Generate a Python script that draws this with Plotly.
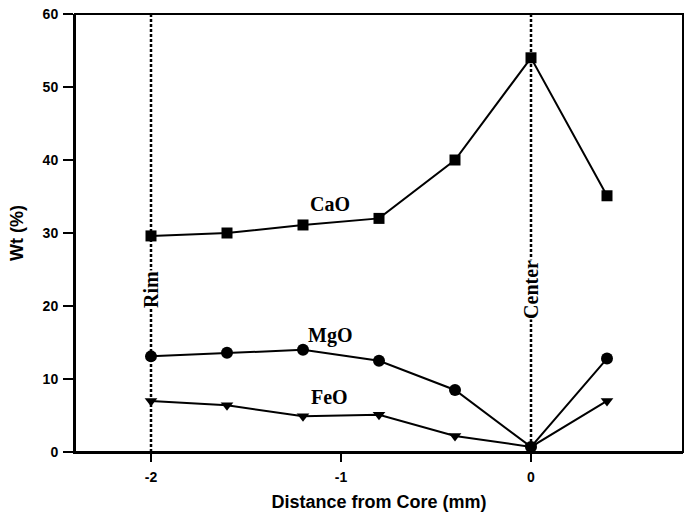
import plotly.graph_objects as go

distance = [-2, -1.6, -1.2, -0.8, -0.4, 0, 0.4]
cao = [29.6, 30.0, 31.1, 32.0, 40.0, 54.0, 35.1]
mgo = [13.1, 13.6, 14.0, 12.5, 8.5, 0.7, 12.8]
feo = [7.0, 6.4, 4.9, 5.1, 2.2, 0.7, 7.0]

x_ticks = [-2, -1, 0]
y_ticks = [0, 10, 20, 30, 40, 50, 60]

series = [("CaO", cao, "square", 11), ("MgO", mgo, "circle", 12), ("FeO", feo, "triangle-down", 11)]
labels = [("CaO", -1.06, 34.0), ("MgO", -1.06, 16.0), ("FeO", -1.06, 7.5)]
ref_lines = [(-2, "Rim"), (0, "Center")]

fig = go.Figure()
for xv, txt in ref_lines:
    fig.add_trace(go.Scatter(x=[xv, xv], y=[0, 60], mode="lines",
                             line=dict(color="black", width=2.5, dash="3px,2px"),
                             showlegend=False, hoverinfo="skip"))
for name, vals, sym, sz in series:
    fig.add_trace(go.Scatter(x=distance, y=vals, mode="lines+markers", name=name,
                             line=dict(color="black", width=2),
                             marker=dict(symbol=sym, size=sz, color="black"),
                             showlegend=False))

serif = dict(family="Liberation Serif", size=20, color="black")
for txt, xv, yv in labels:
    fig.add_annotation(x=xv, y=yv, text="<b>%s</b>" % txt, showarrow=False,
                       font=serif, xanchor="center", yanchor="middle")
for xv, txt in ref_lines:
    fig.add_annotation(x=xv, y=22.2, text="<b>%s</b>" % txt, showarrow=False, textangle=-90,
                       font=serif, bgcolor="white", xanchor="center", yanchor="middle",
                       borderpad=0)

# plot frame
fig.add_shape(type="rect", xref="paper", yref="paper", x0=0, x1=1, y0=0, y1=1,
              line=dict(color="black", width=2), layer="above")

axis_font = dict(family="Liberation Sans", size=14, color="black")
title_font = dict(family="Liberation Sans", size=18, color="black")
fig.update_layout(
    width=692, height=513,
    margin=dict(l=75, r=9, t=14, b=61, autoexpand=False),
    plot_bgcolor="white", paper_bgcolor="white",
    xaxis=dict(range=[-2.4, 0.8], tickvals=x_ticks, ticktext=["<b>%g</b>" % v for v in x_ticks],
               showgrid=False, zeroline=False, showline=True, linecolor="black", linewidth=2,
               ticks="outside", ticklen=8, tickwidth=2, tickcolor="black",
               tickfont=axis_font, ticklabelstandoff=3,
               title=dict(text="<b>Distance from Core (mm)</b>", standoff=12, font=title_font)),
    yaxis=dict(range=[0, 60], tickvals=y_ticks, ticktext=["<b>%g</b>" % v for v in y_ticks],
               showgrid=False, zeroline=False, showline=True, linecolor="black", linewidth=2,
               ticks="outside", ticklen=10, tickwidth=2, tickcolor="black",
               tickfont=axis_font, ticklabeloverflow="allow", ticklabelstandoff=2,
               title=dict(text="<b>Wt (%)</b>", standoff=14, font=title_font)),
)
fig.write_html(
    "out.html",
    config={"displayModeBar": False},
    post_script=("document.body.style.margin='0px';"
                 "document.body.style.overflow='hidden';"
                 "document.documentElement.style.overflow='hidden';"),
)
